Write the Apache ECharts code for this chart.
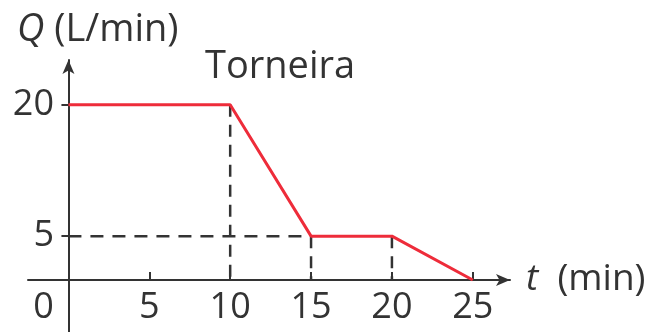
<!DOCTYPE html>
<html>
<head>
<meta charset="utf-8">
<script src="https://cdn.jsdelivr.net/npm/echarts@6/dist/echarts.min.js"></script>
<style>
  html, body { margin: 0; padding: 0; background: #fff; }
  #chart { width: 652px; height: 332px; }
</style>
</head>
<body>
<div id="chart"></div>
<script>
// vazão da torneira ao longo do tempo
const tempo = [0, 10, 15, 20, 25];
const vazao = [20, 20, 5, 5, 0];
const xTicks = [0, 5, 10, 15, 20, 25];
const yTicks = [5, 20];
// linhas tracejadas de referência
const guideX = [10, 15, 20];
const guideTop = [20, 5, 5];
const guideY = 5;
const guideYEnd = 15;

const font = '"Open Sans", "Noto Sans", sans-serif';
const ink = '#333';

var myChart = echarts.init(document.getElementById('chart'));

var guideSeries = guideX.map(function (x, i) {
    return {
        type: 'line',
        data: [[x, guideTop[i]], [x, 0]],
        symbol: 'none',
        silent: true,
        lineStyle: { color: ink, width: 2.5, type: [12, 8] },
        z: 1
    };
});
guideSeries.push({
    type: 'line',
    data: [[0, guideY], [guideYEnd, guideY]],
    symbol: 'none',
    silent: true,
    lineStyle: { color: ink, width: 2.5, type: [13, 9] },
    z: 1
});

var option = {
    animation: false,
    textStyle: { fontFamily: font },
    title: [
        {
            text: '{i|Q} (L/min)',
            left: 12,
            top: 6,
            textStyle: {
                fontFamily: font, fontSize: 38, fontWeight: 'normal', color: ink,
                rich: { i: { fontStyle: 'italic', fontFamily: font, fontSize: 38, color: ink } }
            }
        },
        {
            text: 'Torneira',
            left: 200,
            top: 43,
            textStyle: { fontFamily: font, fontSize: 38, fontWeight: 'normal', color: ink }
        }
    ],
    grid: { left: 28, right: 142, top: 60, bottom: 0, containLabel: false, outerBoundsMode: 'none' },
    xAxis: {
        type: 'value',
        min: -2.5,
        max: 27.3,
        name: '{i|t}  (min)',
        nameLocation: 'end',
        nameGap: 16,
        nameTextStyle: {
            fontFamily: font, fontSize: 37, color: ink,
            rich: { i: { fontStyle: 'italic', fontFamily: font, fontSize: 37, color: ink } }
        },
        splitLine: { show: false },
        axisLine: {
            onZero: true,
            symbol: ['none', 'arrow'],
            symbolSize: [9, 14],
            lineStyle: { color: ink, width: 2 }
        },
        axisTick: {
            customValues: [5, 10, 15, 20, 25],
            inside: true,
            length: 8,
            lineStyle: { color: ink, width: 2 }
        },
        axisLabel: {
            customValues: xTicks,
            margin: -42,
            fontFamily: font,
            fontSize: 36,
            color: ink,
            formatter: function (v) {
                return v === 0 ? '{z|0}' : String(v);
            },
            rich: { z: { fontFamily: font, fontSize: 36, color: ink, padding: [0, 50, 0, 0] } }
        }
    },
    yAxis: {
        type: 'value',
        min: -5.94,
        max: 25.1,
        splitLine: { show: false },
        axisLine: {
            onZero: true,
            symbol: ['none', 'arrow'],
            symbolSize: [9, 14],
            lineStyle: { color: ink, width: 2 }
        },
        axisTick: {
            customValues: yTicks,
            length: 7,
            lineStyle: { color: ink, width: 2 }
        },
        axisLabel: {
            customValues: yTicks,
            margin: -26,
            fontFamily: font,
            fontSize: 36,
            color: ink
        }
    },
    series: guideSeries.concat([
        {
            name: 'Torneira',
            type: 'line',
            data: tempo.map(function (t, i) { return [t, vazao[i]]; }),
            symbol: 'none',
            lineStyle: { color: '#ee2c3a', width: 3 },
            z: 3
        }
    ])
};
option && myChart.setOption(option);
</script>
</body>
</html>
